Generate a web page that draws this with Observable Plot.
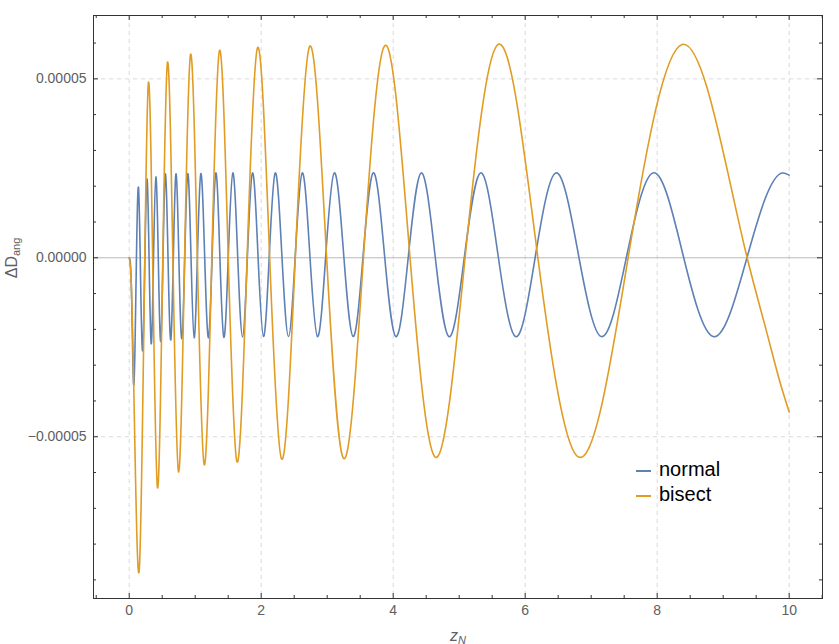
<!DOCTYPE html>
<html>
<head>
<meta charset="utf-8">
<script src="https://cdn.jsdelivr.net/npm/d3@7"></script>
<script src="https://cdn.jsdelivr.net/npm/@observablehq/plot@0.6"></script>
<style>
  html, body { margin: 0; padding: 0; background: #fff; }
  #wrap { position: relative; width: 839px; height: 644px; font-family: "Liberation Sans", Arial, sans-serif; }
  #chart { position: absolute; left: 0; top: 0; }
  .ylab { position: absolute; left: 12px; top: 258px; transform: translate(-50%, -50%) rotate(-90deg); color: #606060; font-size: 16px; white-space: nowrap; }
  .ylab sub { font-size: 11px; vertical-align: -3px; }
  .xlab { position: absolute; left: 458px; top: 636px; transform: translate(-50%, -50%); color: #606060; font-size: 16px; white-space: nowrap; }
  .xlab i { font-style: italic; }
  .xlab sub { font-size: 11px; font-style: italic; vertical-align: -3px; }
  .legend { position: absolute; left: 636px; top: 457px; font-size: 20px; color: #000; line-height: 24.5px; }
  .legend .row { display: flex; align-items: center; }
  .legend .sw { display: inline-block; width: 15px; height: 0; border-top: 2px solid; margin-right: 8px; position: relative; top: 2px; }
</style>
</head>
<body>
<div id="wrap">
  <div id="chart"></div>
  <div class="ylab">ΔD<sub>ang</sub></div>
  <div class="xlab"><i>z</i><sub>N</sub></div>
  <div class="legend">
    <div class="row"><span class="sw" style="border-color:#5E81B5"></span>normal</div>
    <div class="row"><span class="sw" style="border-color:#E19C24"></span>bisect</div>
  </div>
</div>
<script>
// ---- data ----
const seriesNames = ["normal", "bisect"];
const seriesColors = ["#5E81B5", "#E19C24"];

const normalX = [0, 0.015, 0.04, 0.065, 0.103, 0.141, 0.170, 0.200, 0.236, 0.272, 0.302, 0.333, 0.368, 0.404,
  0.441, 0.479, 0.512, 0.545, 0.588, 0.631, 0.669, 0.707, 0.752, 0.797, 0.842, 0.888, 0.936, 0.984,
  1.034, 1.085, 1.143, 1.202, 1.257, 1.313, 1.373, 1.434, 1.502, 1.570, 1.643, 1.717, 1.792, 1.868,
  1.951, 2.035, 2.123, 2.212, 2.313, 2.414, 2.517, 2.621, 2.737, 2.853, 2.979, 3.106, 3.250, 3.393,
  3.545, 3.697, 3.868, 4.040, 4.232, 4.424, 4.633, 4.843, 5.083, 5.323, 5.588, 5.853, 6.158, 6.464,
  6.807, 7.151, 7.542, 7.934, 8.391, 8.848, 9.373, 9.898, 10.0];
const normalY = [0, -1.0e-6, -14e-6, -35.0e-6, -7.7e-6, 19.6e-6, -3.2e-6, -25.9e-6, -2.0e-6, 21.9e-6, -1.0e-6, -24.0e-6, -0.7e-6, 22.6e-6,
  -0.35e-6, -23.3e-6, 0, 23.2e-6, 0.15e-6, -22.9e-6, 0.2e-6, 23.35e-6, 0.4e-6, -22.6e-6, 0.45e-6, 23.5e-6, 0.6e-6, -22.35e-6,
  0.6e-6, 23.5e-6, 0.6e-6, -22.3e-6, 0.7e-6, 23.7e-6, 0.75e-6, -22.2e-6, 0.75e-6, 23.7e-6, 0.8e-6, -22.1e-6, 0.8e-6, 23.7e-6,
  0.85e-6, -22.0e-6, 0.85e-6, 23.7e-6, 0.85e-6, -22.0e-6, 0.85e-6, 23.7e-6, 0.85e-6, -22.0e-6, 0.85e-6, 23.7e-6, 0.85e-6, -22.0e-6,
  0.85e-6, 23.7e-6, 0.85e-6, -22.0e-6, 0.85e-6, 23.7e-6, 0.85e-6, -22.0e-6, 0.85e-6, 23.7e-6, 0.85e-6, -22.0e-6, 0.85e-6, 23.7e-6,
  0.85e-6, -22.0e-6, 0.85e-6, 23.7e-6, 0.85e-6, -22.0e-6, 0.85e-6, 23.7e-6, 23.1e-6];

const bisectX = [0, 0.025, 0.07, 0.151, 0.222, 0.292, 0.361, 0.429, 0.505, 0.580, 0.664, 0.747, 0.838, 0.929,
  1.033, 1.136, 1.252, 1.368, 1.500, 1.631, 1.788, 1.944, 2.126, 2.308, 2.520, 2.732, 2.987, 3.242,
  3.555, 3.868, 4.247, 4.626, 5.100, 5.575, 6.178, 6.780, 7.579, 8.378, 9.363, 9.666, 9.868, 10.0];
const bisectY = [0, -4.5e-6, -37e-6, -87.5e-6, -19.2e-6, 49.05e-6, -7.6e-6, -64.25e-6, -4.8e-6, 54.6e-6, -2.6e-6, -59.8e-6, -1.5e-6, 56.8e-6,
  -0.5e-6, -57.8e-6, 0.05e-6, 57.9e-6, 0.5e-6, -56.9e-6, 0.9e-6, 58.7e-6, 1.25e-6, -56.2e-6, 1.4e-6, 59.0e-6, 1.55e-6, -55.9e-6,
  1.65e-6, 59.2e-6, 1.85e-6, -55.5e-6, 1.95e-6, 59.4e-6, 2.05e-6, -55.3e-6, 2.15e-6, 59.6e-6, 0, -21.2e-6, -35.2e-6, -43.1e-6];

const xDomain = [-0.541, 10.505];
const yDomain = [-95.2e-6, 67.7e-6];
const xMajorTicks = [0, 2, 4, 6, 8, 10];
const xMinorTicks = [-0.5, 0.5, 1, 1.5, 2.5, 3, 3.5, 4.5, 5, 5.5, 6.5, 7, 7.5, 8.5, 9, 9.5, 10.5];
const yMajorTicks = [-0.00005, 0, 0.00005];
const yMinorTicks = [-0.00009, -0.00008, -0.00007, -0.00006, -0.00004, -0.00003, -0.00002, -0.00001,
  0.00001, 0.00002, 0.00003, 0.00004, 0.00006];
const yGridLines = [-0.00005, 0.00005];

// ---- natural cubic spline of y as a function of x (d3 curve interface) ----
class NaturalX {
  constructor(ctx) { this._c = ctx; }
  areaStart() {}
  areaEnd() {}
  lineStart() { this._x = []; this._y = []; }
  point(x, y) { this._x.push(+x); this._y.push(+y); }
  lineEnd() {
    const X = this._x, Y = this._y, n = X.length, c = this._c;
    if (!n) return;
    c.moveTo(X[0], Y[0]);
    if (n === 1) return;
    if (n === 2) { c.lineTo(X[1], Y[1]); return; }
    const h = [];
    for (let i = 0; i < n - 1; i++) h.push(X[i + 1] - X[i]);
    const m = n - 2, a = [], b = [], cc = [], d = [];
    for (let i = 1; i <= m; i++) {
      a.push(h[i - 1]); b.push(2 * (h[i - 1] + h[i])); cc.push(h[i]);
      d.push(6 * ((Y[i + 1] - Y[i]) / h[i] - (Y[i] - Y[i - 1]) / h[i - 1]));
    }
    for (let i = 1; i < m; i++) { const w = a[i] / b[i - 1]; b[i] -= w * cc[i - 1]; d[i] -= w * d[i - 1]; }
    const M = new Array(n).fill(0);
    M[m] = d[m - 1] / b[m - 1];
    for (let i = m - 2; i >= 0; i--) M[i + 1] = (d[i] - cc[i] * M[i + 2]) / b[i];
    for (let i = 0; i < n - 1; i++) {
      const hi = h[i], s = (Y[i + 1] - Y[i]) / hi;
      const d0 = s - hi * (2 * M[i] + M[i + 1]) / 6;
      const d1 = s + hi * (M[i] + 2 * M[i + 1]) / 6;
      c.bezierCurveTo(X[i] + hi / 3, Y[i] + d0 * hi / 3, X[i + 1] - hi / 3, Y[i + 1] - d1 * hi / 3, X[i + 1], Y[i + 1]);
    }
  }
}
const curveNaturalX = ctx => new NaturalX(ctx);

// ---- build ----
const W = 839, H = 644;
const mL = 93, mR = 17, mT = 15, mB = 46;
const pw = W - mL - mR, ph = H - mT - mB;
const majorLen = 5, minorLen = 3;
const frameColor = "#333";
const textColor = "#606060";

const normal = normalX.map((x, i) => ({x, y: normalY[i]}));
const bisect = bisectX.map((x, i) => ({x, y: bisectY[i]}));

const fmtY = d => d === 0 ? "0.00000" : (d < 0 ? "\u2212" : "") + Math.abs(d).toFixed(5);

const chart = Plot.plot({
  width: W, height: H,
  marginLeft: mL, marginRight: mR, marginTop: mT, marginBottom: mB,
  style: {fontFamily: "'Liberation Sans', Arial, sans-serif", fontSize: "14px", background: "#fff", overflow: "visible"},
  x: {domain: xDomain, axis: null},
  y: {domain: yDomain, axis: null},
  marks: [
    Plot.ruleX(xMajorTicks, {x: d => d, stroke: "#dadada", strokeDasharray: "4,4", strokeWidth: 1}),
    Plot.ruleY(yGridLines, {y: d => d, stroke: "#dadada", strokeDasharray: "4,4", strokeWidth: 1}),
    Plot.ruleY([0], {y: d => d, stroke: "#b8b8b8", strokeWidth: 1}),
    Plot.line(normal, {x: "x", y: "y", stroke: seriesColors[0], strokeWidth: 1.6, curve: curveNaturalX}),
    Plot.line(bisect, {x: "x", y: "y", stroke: seriesColors[1], strokeWidth: 1.6, curve: curveNaturalX}),
    // inward frame ticks
    Plot.tickX(xMajorTicks, {x: d => d, stroke: frameColor, insetTop: ph - majorLen}),
    Plot.tickX(xMinorTicks, {x: d => d, stroke: frameColor, insetTop: ph - minorLen}),
    Plot.tickX(xMajorTicks, {x: d => d, stroke: frameColor, insetBottom: ph - majorLen}),
    Plot.tickX(xMinorTicks, {x: d => d, stroke: frameColor, insetBottom: ph - minorLen}),
    Plot.tickY(yMajorTicks, {y: d => d, stroke: frameColor, insetRight: pw - majorLen}),
    Plot.tickY(yMinorTicks, {y: d => d, stroke: frameColor, insetRight: pw - minorLen}),
    Plot.tickY(yMajorTicks, {y: d => d, stroke: frameColor, insetLeft: pw - majorLen}),
    Plot.tickY(yMinorTicks, {y: d => d, stroke: frameColor, insetLeft: pw - minorLen}),
    Plot.axisX({ticks: xMajorTicks, tickSize: 0, tickPadding: 7, tickFormat: d => String(d), fill: textColor, fontSize: 14, label: null}),
    Plot.axisY({ticks: yMajorTicks, tickSize: 0, tickPadding: 7, tickFormat: fmtY, fill: textColor, fontSize: 14, label: null}),
    Plot.frame({stroke: frameColor, strokeWidth: 1})
  ]
});
document.getElementById("chart").appendChild(chart);
</script>
</body>
</html>
